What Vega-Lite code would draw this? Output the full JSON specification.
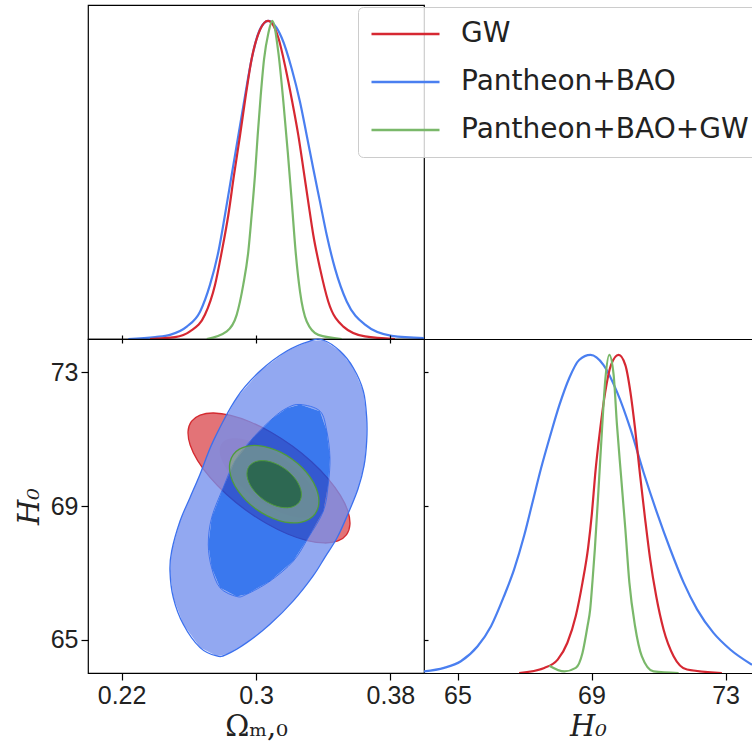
{
  "$schema": "https://vega.github.io/schema/vega-lite/v6.json",
  "background": "white",
  "padding": {"left": 14, "top": 4, "right": 0, "bottom": 0},
  "spacing": 0,
  "bounds": "flush",
  "resolve": {"scale": {"color": "shared"}, "legend": {"color": "shared"}},
  "config": {
    "view": {"stroke": "black", "strokeWidth": 1.2},
    "axis": {"grid": false, "domainColor": "black", "tickColor": "black", "labelColor": "#222222", "titleColor": "#222222", "labelFont": "Liberation Sans", "labelFontSize": 25, "titleFont": "DejaVu Serif", "titleFontSize": 29, "titleFontWeight": "normal", "tickWidth": 1.2, "domainWidth": 1.2, "labelPadding": 3, "format": "~g"},
    "legend": {"orient": "none", "legendX": 270, "legendY": 2, "title": null, "symbolType": "stroke", "symbolSize": 4624, "symbolStrokeWidth": 2.6, "labelFont": "DejaVu Sans", "labelFontSize": 28, "labelColor": "#222222", "labelOffset": 20, "clipHeight": 30, "rowPadding": 18, "padding": 12, "fillColor": "rgba(255,255,255,0.8)", "strokeColor": "#cccccc", "cornerRadius": 5, "labelLimit": 600}
  },
  "datasets": {
    "om1d": [
      {"dataset": "Pantheon+BAO", "om": 0.2240, "p": 0.0},
      {"dataset": "Pantheon+BAO", "om": 0.2400, "p": 0.006},
      {"dataset": "Pantheon+BAO", "om": 0.2488, "p": 0.013},
      {"dataset": "Pantheon+BAO", "om": 0.2588, "p": 0.039},
      {"dataset": "Pantheon+BAO", "om": 0.2667, "p": 0.086},
      {"dataset": "Pantheon+BAO", "om": 0.2726, "p": 0.170},
      {"dataset": "Pantheon+BAO", "om": 0.2776, "p": 0.274},
      {"dataset": "Pantheon+BAO", "om": 0.2815, "p": 0.389},
      {"dataset": "Pantheon+BAO", "om": 0.2855, "p": 0.515},
      {"dataset": "Pantheon+BAO", "om": 0.2895, "p": 0.640},
      {"dataset": "Pantheon+BAO", "om": 0.2935, "p": 0.765},
      {"dataset": "Pantheon+BAO", "om": 0.2974, "p": 0.880},
      {"dataset": "Pantheon+BAO", "om": 0.3024, "p": 0.974},
      {"dataset": "Pantheon+BAO", "om": 0.3073, "p": 1.0},
      {"dataset": "Pantheon+BAO", "om": 0.3153, "p": 0.947},
      {"dataset": "Pantheon+BAO", "om": 0.3213, "p": 0.849},
      {"dataset": "Pantheon+BAO", "om": 0.3262, "p": 0.745},
      {"dataset": "Pantheon+BAO", "om": 0.3302, "p": 0.640},
      {"dataset": "Pantheon+BAO", "om": 0.3341, "p": 0.535},
      {"dataset": "Pantheon+BAO", "om": 0.3381, "p": 0.431},
      {"dataset": "Pantheon+BAO", "om": 0.3421, "p": 0.327},
      {"dataset": "Pantheon+BAO", "om": 0.3470, "p": 0.222},
      {"dataset": "Pantheon+BAO", "om": 0.3540, "p": 0.118},
      {"dataset": "Pantheon+BAO", "om": 0.3649, "p": 0.045},
      {"dataset": "Pantheon+BAO", "om": 0.3808, "p": 0.010},
      {"dataset": "Pantheon+BAO", "om": 0.4000, "p": 0.003},
      {"dataset": "GW", "om": 0.2369, "p": 0.0},
      {"dataset": "GW", "om": 0.2518, "p": 0.006},
      {"dataset": "GW", "om": 0.2607, "p": 0.024},
      {"dataset": "GW", "om": 0.2696, "p": 0.076},
      {"dataset": "GW", "om": 0.2756, "p": 0.170},
      {"dataset": "GW", "om": 0.2796, "p": 0.274},
      {"dataset": "GW", "om": 0.2835, "p": 0.389},
      {"dataset": "GW", "om": 0.2869, "p": 0.515},
      {"dataset": "GW", "om": 0.2905, "p": 0.640},
      {"dataset": "GW", "om": 0.2939, "p": 0.765},
      {"dataset": "GW", "om": 0.2974, "p": 0.880},
      {"dataset": "GW", "om": 0.3024, "p": 0.972},
      {"dataset": "GW", "om": 0.3071, "p": 1.0},
      {"dataset": "GW", "om": 0.3133, "p": 0.947},
      {"dataset": "GW", "om": 0.3177, "p": 0.849},
      {"dataset": "GW", "om": 0.3216, "p": 0.745},
      {"dataset": "GW", "om": 0.3252, "p": 0.640},
      {"dataset": "GW", "om": 0.3282, "p": 0.535},
      {"dataset": "GW", "om": 0.3311, "p": 0.431},
      {"dataset": "GW", "om": 0.3341, "p": 0.327},
      {"dataset": "GW", "om": 0.3381, "p": 0.222},
      {"dataset": "GW", "om": 0.3430, "p": 0.118},
      {"dataset": "GW", "om": 0.3520, "p": 0.039},
      {"dataset": "GW", "om": 0.3649, "p": 0.008},
      {"dataset": "GW", "om": 0.3827, "p": 0.0},
      {"dataset": "Pantheon+BAO+GW", "om": 0.2707, "p": 0.0},
      {"dataset": "Pantheon+BAO+GW", "om": 0.2826, "p": 0.024},
      {"dataset": "Pantheon+BAO+GW", "om": 0.2885, "p": 0.076},
      {"dataset": "Pantheon+BAO+GW", "om": 0.2924, "p": 0.170},
      {"dataset": "Pantheon+BAO+GW", "om": 0.2954, "p": 0.274},
      {"dataset": "Pantheon+BAO+GW", "om": 0.2974, "p": 0.389},
      {"dataset": "Pantheon+BAO+GW", "om": 0.2994, "p": 0.515},
      {"dataset": "Pantheon+BAO+GW", "om": 0.3010, "p": 0.640},
      {"dataset": "Pantheon+BAO+GW", "om": 0.3028, "p": 0.765},
      {"dataset": "Pantheon+BAO+GW", "om": 0.3048, "p": 0.880},
      {"dataset": "Pantheon+BAO+GW", "om": 0.3073, "p": 0.960},
      {"dataset": "Pantheon+BAO+GW", "om": 0.3097, "p": 1.0},
      {"dataset": "Pantheon+BAO+GW", "om": 0.3133, "p": 0.901},
      {"dataset": "Pantheon+BAO+GW", "om": 0.3163, "p": 0.745},
      {"dataset": "Pantheon+BAO+GW", "om": 0.3189, "p": 0.588},
      {"dataset": "Pantheon+BAO+GW", "om": 0.3213, "p": 0.431},
      {"dataset": "Pantheon+BAO+GW", "om": 0.3236, "p": 0.274},
      {"dataset": "Pantheon+BAO+GW", "om": 0.3262, "p": 0.149},
      {"dataset": "Pantheon+BAO+GW", "om": 0.3302, "p": 0.055},
      {"dataset": "Pantheon+BAO+GW", "om": 0.3371, "p": 0.013},
      {"dataset": "Pantheon+BAO+GW", "om": 0.3510, "p": 0.0}
    ],
    "h1d": [
      {"dataset": "Pantheon+BAO", "h": 64.00, "p": 0.005},
      {"dataset": "Pantheon+BAO", "h": 64.60, "p": 0.016},
      {"dataset": "Pantheon+BAO", "h": 65.10, "p": 0.037},
      {"dataset": "Pantheon+BAO", "h": 65.60, "p": 0.084},
      {"dataset": "Pantheon+BAO", "h": 66.00, "p": 0.147},
      {"dataset": "Pantheon+BAO", "h": 66.39, "p": 0.242},
      {"dataset": "Pantheon+BAO", "h": 66.69, "p": 0.326},
      {"dataset": "Pantheon+BAO", "h": 66.99, "p": 0.432},
      {"dataset": "Pantheon+BAO", "h": 67.24, "p": 0.537},
      {"dataset": "Pantheon+BAO", "h": 67.49, "p": 0.642},
      {"dataset": "Pantheon+BAO", "h": 67.77, "p": 0.747},
      {"dataset": "Pantheon+BAO", "h": 68.04, "p": 0.842},
      {"dataset": "Pantheon+BAO", "h": 68.33, "p": 0.926},
      {"dataset": "Pantheon+BAO", "h": 68.63, "p": 0.984},
      {"dataset": "Pantheon+BAO", "h": 68.97, "p": 1.0},
      {"dataset": "Pantheon+BAO", "h": 69.36, "p": 0.968},
      {"dataset": "Pantheon+BAO", "h": 69.76, "p": 0.884},
      {"dataset": "Pantheon+BAO", "h": 70.16, "p": 0.768},
      {"dataset": "Pantheon+BAO", "h": 70.55, "p": 0.632},
      {"dataset": "Pantheon+BAO", "h": 70.95, "p": 0.505},
      {"dataset": "Pantheon+BAO", "h": 71.35, "p": 0.389},
      {"dataset": "Pantheon+BAO", "h": 71.75, "p": 0.284},
      {"dataset": "Pantheon+BAO", "h": 72.15, "p": 0.200},
      {"dataset": "Pantheon+BAO", "h": 72.64, "p": 0.126},
      {"dataset": "Pantheon+BAO", "h": 73.14, "p": 0.074},
      {"dataset": "Pantheon+BAO", "h": 73.79, "p": 0.026},
      {"dataset": "GW", "h": 66.84, "p": 0.0},
      {"dataset": "GW", "h": 67.59, "p": 0.016},
      {"dataset": "GW", "h": 67.99, "p": 0.042},
      {"dataset": "GW", "h": 68.28, "p": 0.095},
      {"dataset": "GW", "h": 68.53, "p": 0.179},
      {"dataset": "GW", "h": 68.73, "p": 0.284},
      {"dataset": "GW", "h": 68.90, "p": 0.395},
      {"dataset": "GW", "h": 69.01, "p": 0.500},
      {"dataset": "GW", "h": 69.11, "p": 0.625},
      {"dataset": "GW", "h": 69.26, "p": 0.768},
      {"dataset": "GW", "h": 69.41, "p": 0.884},
      {"dataset": "GW", "h": 69.58, "p": 0.968},
      {"dataset": "GW", "h": 69.81, "p": 1.0},
      {"dataset": "GW", "h": 70.01, "p": 0.968},
      {"dataset": "GW", "h": 70.16, "p": 0.884},
      {"dataset": "GW", "h": 70.30, "p": 0.768},
      {"dataset": "GW", "h": 70.45, "p": 0.621},
      {"dataset": "GW", "h": 70.60, "p": 0.484},
      {"dataset": "GW", "h": 70.75, "p": 0.358},
      {"dataset": "GW", "h": 70.93, "p": 0.242},
      {"dataset": "GW", "h": 71.15, "p": 0.137},
      {"dataset": "GW", "h": 71.45, "p": 0.053},
      {"dataset": "GW", "h": 71.85, "p": 0.011},
      {"dataset": "GW", "h": 72.89, "p": 0.0},
      {"dataset": "Pantheon+BAO+GW", "h": 67.74, "p": 0.023},
      {"dataset": "Pantheon+BAO+GW", "h": 68.19, "p": 0.005},
      {"dataset": "Pantheon+BAO+GW", "h": 68.53, "p": 0.016},
      {"dataset": "Pantheon+BAO+GW", "h": 68.73, "p": 0.063},
      {"dataset": "Pantheon+BAO+GW", "h": 68.88, "p": 0.147},
      {"dataset": "Pantheon+BAO+GW", "h": 68.96, "p": 0.200},
      {"dataset": "Pantheon+BAO+GW", "h": 69.03, "p": 0.290},
      {"dataset": "Pantheon+BAO+GW", "h": 69.10, "p": 0.390},
      {"dataset": "Pantheon+BAO+GW", "h": 69.21, "p": 0.580},
      {"dataset": "Pantheon+BAO+GW", "h": 69.31, "p": 0.760},
      {"dataset": "Pantheon+BAO+GW", "h": 69.41, "p": 0.920},
      {"dataset": "Pantheon+BAO+GW", "h": 69.53, "p": 1.0},
      {"dataset": "Pantheon+BAO+GW", "h": 69.66, "p": 0.937},
      {"dataset": "Pantheon+BAO+GW", "h": 69.76, "p": 0.779},
      {"dataset": "Pantheon+BAO+GW", "h": 69.88, "p": 0.621},
      {"dataset": "Pantheon+BAO+GW", "h": 70.01, "p": 0.452},
      {"dataset": "Pantheon+BAO+GW", "h": 70.13, "p": 0.284},
      {"dataset": "Pantheon+BAO+GW", "h": 70.30, "p": 0.147},
      {"dataset": "Pantheon+BAO+GW", "h": 70.50, "p": 0.053},
      {"dataset": "Pantheon+BAO+GW", "h": 70.85, "p": 0.005},
      {"dataset": "Pantheon+BAO+GW", "h": 71.60, "p": 0.0}
    ],
    "contours": [
      {"c": "red2", "i": 0, "om": 0.35391, "h": 68.145},
      {"c": "red2", "i": 1, "om": 0.34874, "h": 67.955},
      {"c": "red2", "i": 2, "om": 0.34078, "h": 67.893},
      {"c": "red2", "i": 3, "om": 0.33057, "h": 67.963},
      {"c": "red2", "i": 4, "om": 0.31880, "h": 68.162},
      {"c": "red2", "i": 5, "om": 0.30628, "h": 68.475},
      {"c": "red2", "i": 6, "om": 0.29385, "h": 68.880},
      {"c": "red2", "i": 7, "om": 0.28238, "h": 69.351},
      {"c": "red2", "i": 8, "om": 0.27263, "h": 69.855},
      {"c": "red2", "i": 9, "om": 0.26527, "h": 70.358},
      {"c": "red2", "i": 10, "om": 0.26081, "h": 70.826},
      {"c": "red2", "i": 11, "om": 0.25955, "h": 71.226},
      {"c": "red2", "i": 12, "om": 0.26157, "h": 71.532},
      {"c": "red2", "i": 13, "om": 0.26674, "h": 71.722},
      {"c": "red2", "i": 14, "om": 0.27470, "h": 71.784},
      {"c": "red2", "i": 15, "om": 0.28491, "h": 71.713},
      {"c": "red2", "i": 16, "om": 0.29668, "h": 71.515},
      {"c": "red2", "i": 17, "om": 0.30921, "h": 71.202},
      {"c": "red2", "i": 18, "om": 0.32163, "h": 70.796},
      {"c": "red2", "i": 19, "om": 0.33310, "h": 70.325},
      {"c": "red2", "i": 20, "om": 0.34285, "h": 69.821},
      {"c": "red2", "i": 21, "om": 0.35021, "h": 69.318},
      {"c": "red2", "i": 22, "om": 0.35467, "h": 68.851},
      {"c": "red2", "i": 23, "om": 0.35593, "h": 68.451},
      {"c": "red1", "i": 0, "om": 0.33590, "h": 68.805},
      {"c": "red1", "i": 1, "om": 0.32789, "h": 68.652},
      {"c": "red1", "i": 2, "om": 0.31449, "h": 68.816},
      {"c": "red1", "i": 3, "om": 0.29927, "h": 69.254},
      {"c": "red1", "i": 4, "om": 0.28632, "h": 69.849},
      {"c": "red1", "i": 5, "om": 0.27911, "h": 70.441},
      {"c": "red1", "i": 6, "om": 0.27958, "h": 70.871},
      {"c": "red1", "i": 7, "om": 0.28759, "h": 71.025},
      {"c": "red1", "i": 8, "om": 0.30100, "h": 70.861},
      {"c": "red1", "i": 9, "om": 0.31621, "h": 70.423},
      {"c": "red1", "i": 10, "om": 0.32916, "h": 69.828},
      {"c": "red1", "i": 11, "om": 0.33637, "h": 69.236},
      {"c": "blue2", "i": 0, "om": 0.3399, "h": 73.97},
      {"c": "blue2", "i": 1, "om": 0.3500, "h": 73.64},
      {"c": "blue2", "i": 2, "om": 0.3579, "h": 73.14},
      {"c": "blue2", "i": 3, "om": 0.3639, "h": 72.44},
      {"c": "blue2", "i": 4, "om": 0.3659, "h": 71.64},
      {"c": "blue2", "i": 5, "om": 0.3659, "h": 70.95},
      {"c": "blue2", "i": 6, "om": 0.3643, "h": 70.20},
      {"c": "blue2", "i": 7, "om": 0.3607, "h": 69.51},
      {"c": "blue2", "i": 8, "om": 0.3542, "h": 68.70},
      {"c": "blue2", "i": 9, "om": 0.3482, "h": 68.04},
      {"c": "blue2", "i": 10, "om": 0.3411, "h": 67.47},
      {"c": "blue2", "i": 11, "om": 0.3339, "h": 66.90},
      {"c": "blue2", "i": 12, "om": 0.3222, "h": 66.16},
      {"c": "blue2", "i": 13, "om": 0.3083, "h": 65.46},
      {"c": "blue2", "i": 14, "om": 0.2945, "h": 64.91},
      {"c": "blue2", "i": 15, "om": 0.2826, "h": 64.56},
      {"c": "blue2", "i": 16, "om": 0.2766, "h": 64.51},
      {"c": "blue2", "i": 17, "om": 0.2667, "h": 64.76},
      {"c": "blue2", "i": 18, "om": 0.2567, "h": 65.46},
      {"c": "blue2", "i": 19, "om": 0.2508, "h": 66.25},
      {"c": "blue2", "i": 20, "om": 0.2488, "h": 67.05},
      {"c": "blue2", "i": 21, "om": 0.2498, "h": 67.65},
      {"c": "blue2", "i": 22, "om": 0.2548, "h": 68.55},
      {"c": "blue2", "i": 23, "om": 0.2607, "h": 69.25},
      {"c": "blue2", "i": 24, "om": 0.2667, "h": 69.95},
      {"c": "blue2", "i": 25, "om": 0.2746, "h": 70.95},
      {"c": "blue2", "i": 26, "om": 0.2885, "h": 72.24},
      {"c": "blue2", "i": 27, "om": 0.3024, "h": 73.04},
      {"c": "blue2", "i": 28, "om": 0.3183, "h": 73.64},
      {"c": "blue2", "i": 29, "om": 0.3321, "h": 73.94},
      {"c": "blue1", "i": 0, "om": 0.3262, "h": 72.04},
      {"c": "blue1", "i": 1, "om": 0.3381, "h": 71.84},
      {"c": "blue1", "i": 2, "om": 0.3421, "h": 71.25},
      {"c": "blue1", "i": 3, "om": 0.3440, "h": 70.45},
      {"c": "blue1", "i": 4, "om": 0.3430, "h": 69.65},
      {"c": "blue1", "i": 5, "om": 0.3401, "h": 68.85},
      {"c": "blue1", "i": 6, "om": 0.3311, "h": 68.05},
      {"c": "blue1", "i": 7, "om": 0.3222, "h": 67.35},
      {"c": "blue1", "i": 8, "om": 0.3083, "h": 66.75},
      {"c": "blue1", "i": 9, "om": 0.2945, "h": 66.36},
      {"c": "blue1", "i": 10, "om": 0.2885, "h": 66.29},
      {"c": "blue1", "i": 11, "om": 0.2786, "h": 66.55},
      {"c": "blue1", "i": 12, "om": 0.2736, "h": 67.15},
      {"c": "blue1", "i": 13, "om": 0.2716, "h": 67.85},
      {"c": "blue1", "i": 14, "om": 0.2736, "h": 68.65},
      {"c": "blue1", "i": 15, "om": 0.2805, "h": 69.55},
      {"c": "blue1", "i": 16, "om": 0.2875, "h": 70.35},
      {"c": "blue1", "i": 17, "om": 0.2984, "h": 71.05},
      {"c": "blue1", "i": 18, "om": 0.3103, "h": 71.64},
      {"c": "blue1", "i": 19, "om": 0.3183, "h": 71.93},
      {"c": "blue2r", "i": 0, "om": 0.3399, "h": 73.97},
      {"c": "blue2r", "i": 1, "om": 0.3500, "h": 73.64},
      {"c": "blue2r", "i": 2, "om": 0.3579, "h": 73.14},
      {"c": "blue2r", "i": 3, "om": 0.3639, "h": 72.44},
      {"c": "blue2r", "i": 4, "om": 0.3659, "h": 71.64},
      {"c": "blue2r", "i": 5, "om": 0.3659, "h": 70.95},
      {"c": "blue2r", "i": 6, "om": 0.3643, "h": 70.20},
      {"c": "blue2r", "i": 7, "om": 0.3607, "h": 69.51},
      {"c": "blue2r", "i": 8, "om": 0.3542, "h": 68.70},
      {"c": "blue2r", "i": 9, "om": 0.3482, "h": 68.04},
      {"c": "blue2r", "i": 10, "om": 0.3411, "h": 67.47},
      {"c": "blue2r", "i": 11, "om": 0.3339, "h": 66.90},
      {"c": "blue2r", "i": 12, "om": 0.3222, "h": 66.16},
      {"c": "blue2r", "i": 13, "om": 0.3083, "h": 65.46},
      {"c": "blue2r", "i": 14, "om": 0.2945, "h": 64.91},
      {"c": "blue2r", "i": 15, "om": 0.2826, "h": 64.56},
      {"c": "blue2r", "i": 16, "om": 0.2766, "h": 64.51},
      {"c": "blue2r", "i": 17, "om": 0.2667, "h": 64.76},
      {"c": "blue2r", "i": 18, "om": 0.2567, "h": 65.46},
      {"c": "blue2r", "i": 19, "om": 0.2508, "h": 66.25},
      {"c": "blue2r", "i": 20, "om": 0.2488, "h": 67.05},
      {"c": "blue2r", "i": 21, "om": 0.2498, "h": 67.65},
      {"c": "blue2r", "i": 22, "om": 0.2548, "h": 68.55},
      {"c": "blue2r", "i": 23, "om": 0.2607, "h": 69.25},
      {"c": "blue2r", "i": 24, "om": 0.2667, "h": 69.95},
      {"c": "blue2r", "i": 25, "om": 0.2746, "h": 70.95},
      {"c": "blue2r", "i": 26, "om": 0.2885, "h": 72.24},
      {"c": "blue2r", "i": 27, "om": 0.3024, "h": 73.04},
      {"c": "blue2r", "i": 28, "om": 0.3183, "h": 73.64},
      {"c": "blue2r", "i": 29, "om": 0.3321, "h": 73.94},
      {"c": "blue2r", "i": 30, "om": 0.3399, "h": 73.97},
      {"c": "blue2r", "i": 31, "om": 0.3262, "h": 72.04},
      {"c": "blue2r", "i": 32, "om": 0.3183, "h": 71.93},
      {"c": "blue2r", "i": 33, "om": 0.3103, "h": 71.64},
      {"c": "blue2r", "i": 34, "om": 0.2984, "h": 71.05},
      {"c": "blue2r", "i": 35, "om": 0.2875, "h": 70.35},
      {"c": "blue2r", "i": 36, "om": 0.2805, "h": 69.55},
      {"c": "blue2r", "i": 37, "om": 0.2736, "h": 68.65},
      {"c": "blue2r", "i": 38, "om": 0.2716, "h": 67.85},
      {"c": "blue2r", "i": 39, "om": 0.2736, "h": 67.15},
      {"c": "blue2r", "i": 40, "om": 0.2786, "h": 66.55},
      {"c": "blue2r", "i": 41, "om": 0.2885, "h": 66.29},
      {"c": "blue2r", "i": 42, "om": 0.2945, "h": 66.36},
      {"c": "blue2r", "i": 43, "om": 0.3083, "h": 66.75},
      {"c": "blue2r", "i": 44, "om": 0.3222, "h": 67.35},
      {"c": "blue2r", "i": 45, "om": 0.3311, "h": 68.05},
      {"c": "blue2r", "i": 46, "om": 0.3401, "h": 68.85},
      {"c": "blue2r", "i": 47, "om": 0.3430, "h": 69.65},
      {"c": "blue2r", "i": 48, "om": 0.3440, "h": 70.45},
      {"c": "blue2r", "i": 49, "om": 0.3421, "h": 71.25},
      {"c": "blue2r", "i": 50, "om": 0.3381, "h": 71.84},
      {"c": "blue2r", "i": 51, "om": 0.3262, "h": 72.04},
      {"c": "green2", "i": 0, "om": 0.33518, "h": 68.766},
      {"c": "green2", "i": 1, "om": 0.33157, "h": 68.603},
      {"c": "green2", "i": 2, "om": 0.32654, "h": 68.512},
      {"c": "green2", "i": 3, "om": 0.32045, "h": 68.498},
      {"c": "green2", "i": 4, "om": 0.31369, "h": 68.563},
      {"c": "green2", "i": 5, "om": 0.30675, "h": 68.702},
      {"c": "green2", "i": 6, "om": 0.30008, "h": 68.906},
      {"c": "green2", "i": 7, "om": 0.29415, "h": 69.161},
      {"c": "green2", "i": 8, "om": 0.28935, "h": 69.450},
      {"c": "green2", "i": 9, "om": 0.28601, "h": 69.752},
      {"c": "green2", "i": 10, "om": 0.28437, "h": 70.047},
      {"c": "green2", "i": 11, "om": 0.28453, "h": 70.316},
      {"c": "green2", "i": 12, "om": 0.28648, "h": 70.540},
      {"c": "green2", "i": 13, "om": 0.29009, "h": 70.703},
      {"c": "green2", "i": 14, "om": 0.29512, "h": 70.794},
      {"c": "green2", "i": 15, "om": 0.30122, "h": 70.808},
      {"c": "green2", "i": 16, "om": 0.30797, "h": 70.743},
      {"c": "green2", "i": 17, "om": 0.31491, "h": 70.604},
      {"c": "green2", "i": 18, "om": 0.32158, "h": 70.400},
      {"c": "green2", "i": 19, "om": 0.32752, "h": 70.145},
      {"c": "green2", "i": 20, "om": 0.33231, "h": 69.856},
      {"c": "green2", "i": 21, "om": 0.33565, "h": 69.554},
      {"c": "green2", "i": 22, "om": 0.33729, "h": 69.259},
      {"c": "green2", "i": 23, "om": 0.33713, "h": 68.990},
      {"c": "green1", "i": 0, "om": 0.32568, "h": 69.112},
      {"c": "green1", "i": 1, "om": 0.32041, "h": 68.957},
      {"c": "green1", "i": 2, "om": 0.31258, "h": 68.988},
      {"c": "green1", "i": 3, "om": 0.30427, "h": 69.197},
      {"c": "green1", "i": 4, "om": 0.29773, "h": 69.529},
      {"c": "green1", "i": 5, "om": 0.29469, "h": 69.894},
      {"c": "green1", "i": 6, "om": 0.29598, "h": 70.194},
      {"c": "green1", "i": 7, "om": 0.30125, "h": 70.349},
      {"c": "green1", "i": 8, "om": 0.30908, "h": 70.318},
      {"c": "green1", "i": 9, "om": 0.31739, "h": 70.109},
      {"c": "green1", "i": 10, "om": 0.32394, "h": 69.777},
      {"c": "green1", "i": 11, "om": 0.32697, "h": 69.412}
    ]
  },
  "vconcat": [
    {
      "width": 336,
      "height": 334,
      "data": {"name": "om1d"},
      "mark": {"type": "line", "strokeWidth": 2.2, "interpolate": "monotone"},
      "encoding": {
        "x": {"field": "om", "type": "quantitative", "scale": {"domain": [0.2, 0.4], "nice": false, "zero": false}, "axis": {"values": [0.22, 0.3, 0.38], "labels": false, "title": null, "tickSize": 4, "domain": false}},
        "y": {"field": "p", "type": "quantitative", "scale": {"domain": [0, 1.05], "nice": false}, "axis": null},
        "color": {"field": "dataset", "type": "nominal", "scale": {"domain": ["GW", "Pantheon+BAO", "Pantheon+BAO+GW"], "range": ["#d62832", "#4a7ff0", "#7ab86a"]}}
      }
    },
    {
      "hconcat": [
        {
          "width": 336,
          "height": 334,
          "layer": [
            {
              "data": {"name": "contours"},
              "encoding": {
                "x": {"field": "om", "type": "quantitative", "scale": {"domain": [0.2, 0.4], "nice": false, "zero": false}, "axis": {"values": [0.22, 0.3, 0.38], "title": "Ωₘ,₀", "titleFontStyle": "normal", "tickSize": 7, "domain": false, "titlePadding": 4}},
                "y": {"field": "h", "type": "quantitative", "scale": {"domain": [64, 74], "nice": false, "zero": false}, "axis": {"values": [65, 69, 73], "title": "H₀", "titleFontStyle": "italic", "tickSize": 7, "domain": false, "titlePadding": 6}},
                "order": {"field": "i", "type": "quantitative"}
              },
              "layer": [
                {"transform": [{"filter": "datum.c == 'red2'"}], "mark": {"type": "line", "interpolate": "cardinal-closed", "fill": "#d42a30", "fillOpacity": 0.66, "stroke": "#d42a30", "strokeWidth": 1.3}},
                {"transform": [{"filter": "datum.c == 'red1'"}], "mark": {"type": "line", "interpolate": "cardinal-closed", "fill": "#d42a30", "fillOpacity": 0.25, "strokeOpacity": 0}},
                {"transform": [{"filter": "datum.c == 'blue2r'"}], "mark": {"type": "line", "interpolate": "linear-closed", "fill": "#738fed", "fillOpacity": 0.78, "strokeOpacity": 0}},
                {"transform": [{"filter": "datum.c == 'blue1'"}], "mark": {"type": "line", "interpolate": "linear-closed", "fill": "#0252e9", "fillOpacity": 0.78, "strokeOpacity": 0}},
                {"transform": [{"filter": "datum.c == 'blue2'"}], "mark": {"type": "line", "interpolate": "cardinal-closed", "stroke": "#3b70ee", "strokeWidth": 1.3}},
                {"transform": [{"filter": "datum.c == 'blue1'"}], "mark": {"type": "line", "interpolate": "cardinal-closed", "stroke": "#2a66ee", "strokeWidth": 0.8}},
                {"transform": [{"filter": "datum.c == 'green2'"}], "mark": {"type": "line", "interpolate": "cardinal-closed", "fill": "#87aa7d", "fillOpacity": 0.62, "stroke": "#4f9b3c", "strokeWidth": 1.3}},
                {"transform": [{"filter": "datum.c == 'green1'"}], "mark": {"type": "line", "interpolate": "cardinal-closed", "fill": "#195d39", "fillOpacity": 0.75, "stroke": "#4f9b3c", "strokeWidth": 1}}
              ]
            },
            {
              "data": {"name": "contours"},
              "transform": [{"filter": "datum.c == 'green1'"}],
              "mark": {"type": "point", "opacity": 0},
              "encoding": {
                "x": {"field": "om", "type": "quantitative", "scale": {"domain": [0.2, 0.4], "nice": false, "zero": false}, "axis": {"orient": "top", "values": [0.22, 0.3, 0.38], "labels": false, "title": null, "tickSize": 4, "domain": false}},
                "y": {"field": "h", "type": "quantitative", "scale": {"domain": [64, 74], "nice": false, "zero": false}, "axis": {"orient": "right", "values": [65, 69, 73], "labels": false, "title": null, "tickSize": 4, "domain": false}}
              }
            }
          ],
          "resolve": {"axis": {"x": "independent", "y": "independent"}}
        },
        {
          "width": 328,
          "height": 334,
          "view": {"stroke": null},
          "layer": [
            {
              "data": {"name": "h1d"},
              "mark": {"type": "line", "strokeWidth": 2.2, "interpolate": "monotone", "clip": true},
              "encoding": {
                "x": {"field": "h", "type": "quantitative", "scale": {"domain": [64, 73.79], "nice": false, "zero": false}, "axis": {"values": [65, 69, 73], "title": "H₀", "titleFontStyle": "italic", "tickSize": 7, "domain": true, "titlePadding": 4}},
                "y": {"field": "p", "type": "quantitative", "scale": {"domain": [0, 1.05], "nice": false}, "axis": {"labels": false, "ticks": false, "title": null, "domain": true}},
                "color": {"field": "dataset", "type": "nominal", "scale": {"domain": ["GW", "Pantheon+BAO", "Pantheon+BAO+GW"], "range": ["#d62832", "#4a7ff0", "#7ab86a"]}}
              }
            },
            {
              "data": {"name": "h1d"},
              "mark": {"type": "point", "opacity": 0},
              "encoding": {
                "x": {"field": "h", "type": "quantitative", "scale": {"domain": [64, 73.79], "nice": false, "zero": false}, "axis": {"orient": "top", "labels": false, "ticks": false, "title": null, "domain": true}},
                "y": {"field": "p", "type": "quantitative", "scale": {"domain": [0, 1.05], "nice": false}, "axis": null}
              }
            }
          ],
          "resolve": {"axis": {"x": "independent"}}
        }
      ],
      "spacing": 0,
      "bounds": "flush"
    }
  ]
}
